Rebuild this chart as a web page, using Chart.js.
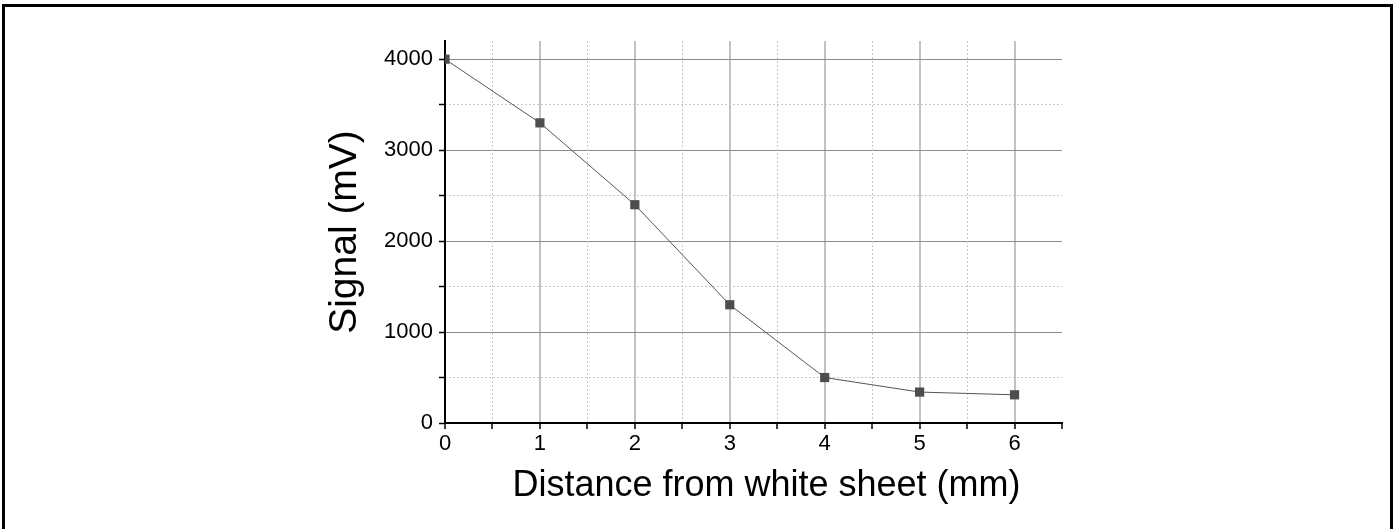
<!doctype html>
<html lang="en">
<head>
    <meta charset="utf-8" />
    <title>Signal vs distance</title>
    <script src="https://cdn.jsdelivr.net/npm/chart.js@4.4.1/dist/chart.umd.min.js"></script>
    <style>
        html, body { margin: 0; padding: 0; background: #fff; overflow: hidden; }
        #myChart { display: block; }
    </style>
</head>
<body>
    <canvas id="myChart" width="1394" height="529"></canvas>

    <script>
        // data
        const distances = [0, 1, 2, 3, 4, 5, 6];
        const signals = [4000, 3300, 2400, 1300, 500, 340, 310];
        const yTickValues = [0, 500, 1000, 1500, 2000, 2500, 3000, 3500, 4000];
        const xTitle = 'Distance from white sheet (mm)';
        const yTitle = 'Signal (mV)';

        const FONT = "'Liberation Sans', Arial, Helvetica, sans-serif";
        const isWhole = (v, step) => Math.abs(v / step - Math.round(v / step)) < 1e-6;
        const setYTicks = s => { s.ticks = yTickValues.map(v => ({ value: v })); };

        // outer frame round the whole figure + x title (sits a bit right of centre)
        const framePlugin = {
            id: 'frame',
            beforeDraw(chart) {
                const c = chart.ctx;
                c.save();
                c.fillStyle = '#fff';
                c.fillRect(0, 0, chart.width, chart.height);
                c.strokeStyle = '#000';
                c.lineWidth = 3;
                c.strokeRect(3.5, 5.5, 1388, 600);
                c.restore();
            },
            afterDraw(chart) {
                const c = chart.ctx;
                const a = chart.chartArea;
                c.save();
                c.fillStyle = '#000';
                c.font = '36px ' + FONT;
                c.textAlign = 'center';
                c.textBaseline = 'middle';
                c.fillText(xTitle, (a.left + a.right) / 2 + 13, a.bottom + 63);
                c.restore();
            }
        };

        const points = distances.map((d, i) => ({ x: d, y: signals[i] }));

        const ctx = document.getElementById('myChart').getContext('2d');
        const myChart = new Chart(ctx, {
            type: 'line',
            data: {
                datasets: [{
                    data: points,
                    xAxisID: 'x',
                    yAxisID: 'y',
                    borderColor: '#555555',
                    borderWidth: 1,
                    backgroundColor: '#4d4d4d',
                    pointStyle: 'rect',
                    pointRadius: 6.5,
                    pointBorderWidth: 0,
                    tension: 0
                }]
            },
            options: {
                responsive: false,
                animation: false,
                layout: { padding: { left: 300, top: 41, right: 332, bottom: 0 } },
                plugins: {
                    legend: { display: false },
                    tooltip: { enabled: false }
                },
                scales: {
                    x: {
                        type: 'linear',
                        position: 'bottom',
                        min: 0,
                        max: 6.5,
                        afterFit: s => { s.height = 106; },
                        ticks: {
                            stepSize: 0.5,
                            autoSkip: false,
                            maxRotation: 0,
                            padding: 2,
                            color: '#000',
                            font: { family: FONT, size: 22 },
                            callback: v => isWhole(v, 1) ? v : ''
                        },
                        grid: {
                            color: c => (c.tick && isWhole(c.tick.value, 1)) ? '#c2c2c2' : 'rgba(0,0,0,0)',
                            lineWidth: 2,
                            tickColor: '#000',
                            tickWidth: 1.5,
                            tickLength: 6
                        },
                        border: { display: true, color: '#000', width: 2 },
                        title: { display: false }
                    },
                    y: {
                        type: 'linear',
                        position: 'left',
                        min: 0,
                        max: 4200,
                        afterFit: s => { s.width = 145; },
                        afterBuildTicks: setYTicks,
                        ticks: {
                            autoSkip: false,
                            padding: 6,
                            color: '#000',
                            font: { family: FONT, size: 22 },
                            callback: v => isWhole(v, 1000) ? v : ''
                        },
                        grid: {
                            color: c => (c.tick && isWhole(c.tick.value, 1000)) ? '#8c8c8c' : 'rgba(0,0,0,0)',
                            lineWidth: 1,
                            tickColor: '#000',
                            tickWidth: 1.5,
                            tickLength: 6
                        },
                        border: { display: true, color: '#000', width: 2 },
                        title: {
                            display: true,
                            text: yTitle,
                            color: '#000',
                            font: { family: FONT, size: 39 },
                            padding: { top: 22, bottom: 0 }
                        }
                    },
                    // minor dotted grid, no labels
                    x2: {
                        type: 'linear',
                        axis: 'x',
                        position: 'top',
                        min: 0,
                        max: 6.5,
                        afterFit: s => { s.height = 0; },
                        ticks: { display: false, stepSize: 0.5, autoSkip: false },
                        grid: {
                            drawTicks: false,
                            color: c => (c.tick && !isWhole(c.tick.value, 1) && c.tick.value < 6.4) ? '#c8c8c8' : 'rgba(0,0,0,0)',
                            lineWidth: 1
                        },
                        border: { display: false, dash: [2, 2] }
                    },
                    y2: {
                        type: 'linear',
                        axis: 'y',
                        position: 'right',
                        min: 0,
                        max: 4200,
                        afterFit: s => { s.width = 0; },
                        afterBuildTicks: setYTicks,
                        ticks: { display: false, autoSkip: false },
                        grid: {
                            drawTicks: false,
                            color: c => (c.tick && !isWhole(c.tick.value, 1000)) ? '#c8c8c8' : 'rgba(0,0,0,0)',
                            lineWidth: 1
                        },
                        border: { display: false, dash: [2, 2] }
                    }
                }
            },
            plugins: [framePlugin]
        });
    </script>
</body>
</html>
